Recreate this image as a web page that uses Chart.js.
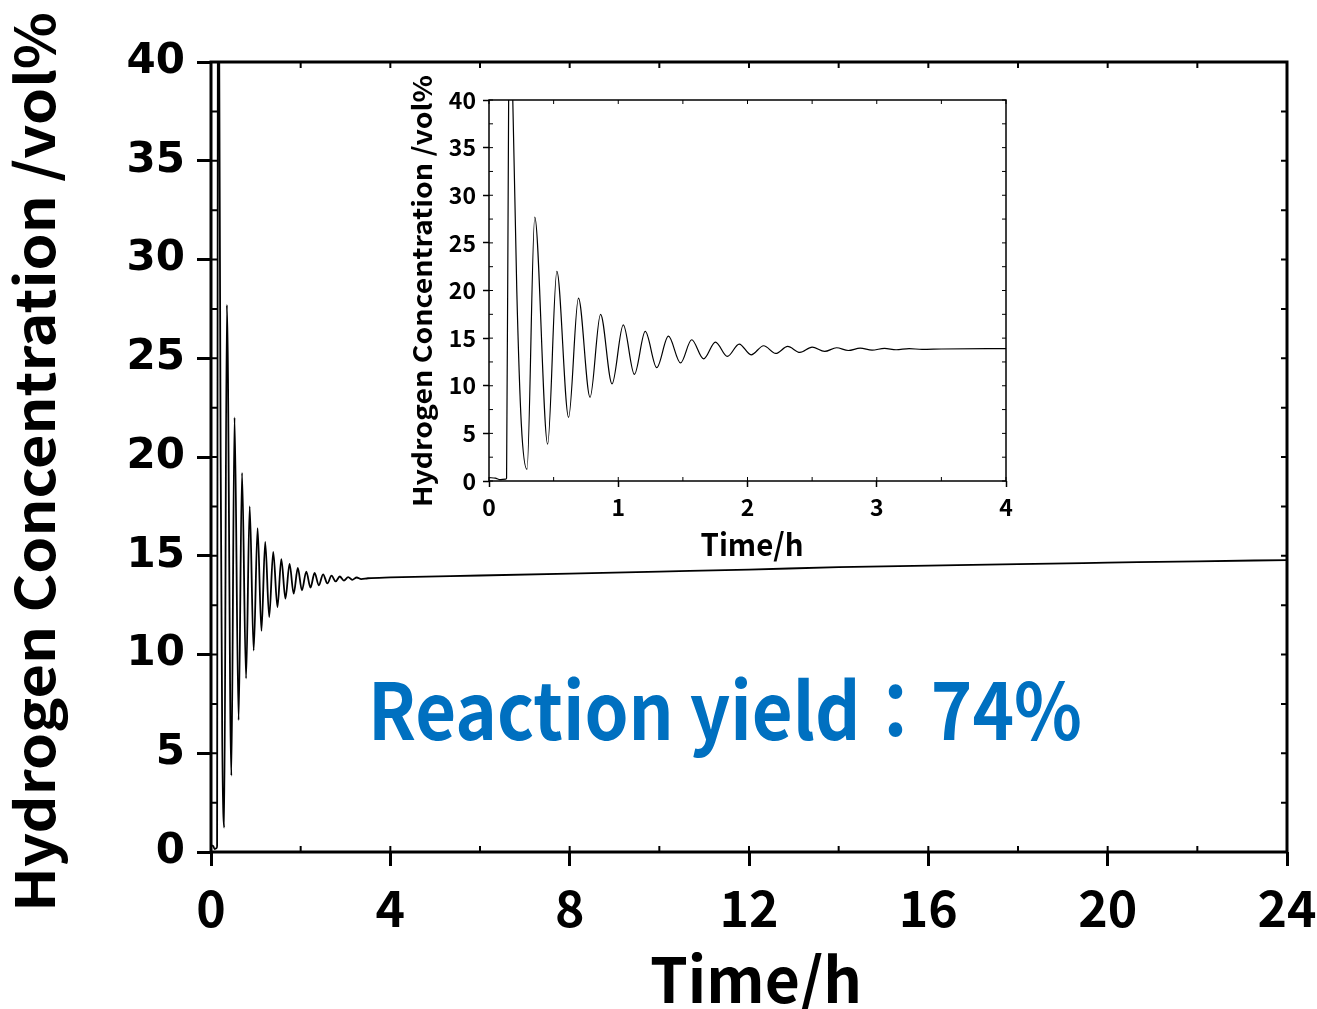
<!DOCTYPE html>
<html>
<head>
<meta charset="utf-8">
<script src="https://cdn.jsdelivr.net/npm/chart.js@4.4.0/dist/chart.umd.min.js"></script>
<style>
  html, body { margin: 0; padding: 0; background: #fff; }
  #wrap { position: relative; width: 1317px; height: 1009px; overflow: hidden; }
  #mainChart { position: absolute; left: 0; top: 0; }
  #insetChart { position: absolute; left: 380px; top: 60px; }
</style>
</head>
<body>
<div id="wrap">
  <canvas id="mainChart" width="1317" height="1009"></canvas>
  <canvas id="insetChart" width="650" height="520"></canvas>
</div>
<script>
// Hydrogen concentration (time in hours, vol%)
const timeH = [0, 0.05, 0.08, 0.13, 0.136, 0.152, 0.168, 0.184, 0.215, 0.25, 0.294,
  0.354, 0.454, 0.525, 0.616, 0.692, 0.782, 0.863, 0.952, 1.039, 1.125, 1.209, 1.298,
  1.388, 1.482, 1.568, 1.660, 1.752, 1.844, 1.936, 2.028, 2.125, 2.219, 2.311, 2.405,
  2.50, 2.597, 2.689, 2.78, 2.872, 2.964, 3.06, 3.15, 3.25, 3.35, 3.5, 4,
  6, 8, 10, 12, 14, 16, 18, 20, 22, 24];
const hydrogenVol = [0.35, 0.3, 0.15, 0.2, 0.3, 40, 46, 40, 20, 6, 1.23,
  27.7, 3.87, 22.0, 6.68, 19.2, 8.79, 17.5, 10.2, 16.4, 11.2, 15.7, 11.9,
  15.2, 12.4, 14.83, 12.83, 14.59, 13.08, 14.38, 13.25, 14.2, 13.39, 14.13, 13.5,
  14.06, 13.6, 13.99, 13.7, 13.95, 13.74, 13.92, 13.78, 13.9, 13.82, 13.86, 13.9,
  14.0, 14.1, 14.2, 14.3, 14.42, 14.5, 14.58, 14.65, 14.72, 14.78];

const mainXTicks = [0, 4, 8, 12, 16, 20, 24];
const insetXTicks = [0, 1, 2, 3, 4];
const yTicks = [0, 5, 10, 15, 20, 25, 30, 35, 40];

const yTitle = 'Hydrogen Concentration /vol%';
const xTitle = 'Time/h';
const yieldText = 'Reaction yield\uFF1A74%';

const points = timeH.map((t, i) => ({ x: t, y: hydrogenVol[i] }));
const jp = '"Noto Sans CJK JP", "Noto Sans", sans-serif';

// draw text squeezed/stretched to a given width
function fitText(ctx, text, x, y, font, width, rotate) {
  ctx.save();
  ctx.font = font;
  const w = ctx.measureText(text).width;
  ctx.translate(x, y);
  if (rotate) ctx.rotate(-Math.PI / 2);
  ctx.scale(width / w, 1);
  ctx.textAlign = 'center';
  ctx.textBaseline = 'alphabetic';
  ctx.fillText(text, 0, 0);
  ctx.restore();
}

function framePlugin(o) {
  return {
    id: 'frame',
    afterDraw(chart) {
      const { ctx, chartArea: a, scales: { x, y } } = chart;
      ctx.save();
      ctx.strokeStyle = '#000';
      ctx.fillStyle = '#000';
      ctx.lineWidth = o.boxW;
      ctx.strokeRect(a.left, a.top, a.right - a.left, a.bottom - a.top);

      // minor and mirrored ticks
      ctx.lineWidth = o.minorW;
      ctx.beginPath();
      for (let v = x.min; v <= x.max + 1e-9; v += o.xMinor) {
        const px = x.getPixelForValue(v);
        ctx.moveTo(px, a.bottom); ctx.lineTo(px, a.bottom - o.minorLen);
        ctx.moveTo(px, a.top); ctx.lineTo(px, a.top + o.minorLen);
      }
      for (let v = y.min; v <= y.max + 1e-9; v += o.yMinor) {
        const py = y.getPixelForValue(v);
        ctx.moveTo(a.left, py); ctx.lineTo(a.left + o.minorLen, py);
        ctx.moveTo(a.right, py); ctx.lineTo(a.right - o.minorLen, py);
      }
      ctx.stroke();

      fitText(ctx, yTitle, o.yt.x, o.yt.y, o.yt.font, o.yt.w, true);
      fitText(ctx, xTitle, o.xt.x, o.xt.y, o.xt.font, o.xt.w, false);
      if (o.note) {
        ctx.fillStyle = '#0070C0';
        fitText(ctx, yieldText, o.note.x, o.note.y, o.note.font, o.note.w, false);
      }
      ctx.restore();
    }
  };
}

function makeChart(id, o) {
  return new Chart(document.getElementById(id), {
    type: 'line',
    data: {
      datasets: [{
        data: points,
        borderColor: '#000',
        borderWidth: o.lineW,
        pointRadius: 0,
        cubicInterpolationMode: 'monotone',
        fill: false
      }]
    },
    options: {
      responsive: false,
      animation: false,
      events: [],
      parsing: false,
      layout: { padding: o.padding },
      plugins: { legend: { display: false }, tooltip: { enabled: false } },
      scales: {
        x: {
          type: 'linear',
          min: o.xTicks[0],
          max: o.xTicks[o.xTicks.length - 1],
          afterBuildTicks: s => { s.ticks = o.xTicks.map(v => ({ value: v })); },
          afterFit: s => { s.height = o.xH; s.paddingLeft = 0; s.paddingRight = 0; },
          border: { display: false },
          grid: { drawOnChartArea: false, tickLength: o.tickLen, tickWidth: o.tickW, tickColor: '#000' },
          ticks: { color: '#000', font: o.xFont, padding: o.xPad, maxRotation: 0, autoSkip: false }
        },
        y: {
          min: 0,
          max: 40,
          afterBuildTicks: s => { s.ticks = yTicks.map(v => ({ value: v })); },
          afterFit: s => { s.width = o.yW; s.paddingTop = 0; s.paddingBottom = 0; },
          border: { display: false },
          grid: { drawOnChartArea: false, tickLength: o.tickLen, tickWidth: o.tickW, tickColor: '#000' },
          ticks: { color: '#000', font: o.yFont, padding: o.yPad }
        }
      }
    },
    plugins: [framePlugin(o.frame)]
  });
}

window.addEventListener('DOMContentLoaded', () => {
  // main chart: plot area 211..1287 x 62..852
  makeChart('mainChart', {
    lineW: 1.8,
    padding: { left: 0, top: 62, right: 30, bottom: 0 },
    xTicks: mainXTicks,
    xH: 157,
    yW: 211,
    tickLen: 14,
    tickW: 3,
    xFont: { family: jp, size: 50, weight: 'bold' },
    yFont: { family: '"DejaVu Sans", sans-serif', size: 42, weight: 'bold' },
    xPad: 12,
    yPad: 12,
    frame: {
      boxW: 3, minorW: 2, minorLen: 6, xMinor: 2, yMinor: 2.5,
      yt: { x: 55, y: 462, font: 'bold 54px ' + jp, w: 900 },
      xt: { x: 756, y: 1003, font: 'bold 62px ' + jp, w: 212 },
      note: { x: 725, y: 740, font: 'bold 78px ' + jp, w: 714 }
    }
  });

  // inset: plot area 489..1006 x 100..481 on the page
  makeChart('insetChart', {
    lineW: 1.2,
    padding: { left: 0, top: 40, right: 24, bottom: 0 },
    xTicks: insetXTicks,
    xH: 99,
    yW: 109,
    tickLen: 6,
    tickW: 1.5,
    xFont: { family: jp, size: 23, weight: 'bold' },
    yFont: { family: jp, size: 23, weight: 'bold' },
    xPad: 6,
    yPad: 7,
    frame: {
      boxW: 1.5, minorW: 1, minorLen: 4, xMinor: 0.5, yMinor: 2.5,
      yt: { x: 52, y: 231, font: 'bold 26px ' + jp, w: 432 },
      xt: { x: 372, y: 496, font: 'bold 31px ' + jp, w: 103 },
      note: null
    }
  });
});
</script>
</body>
</html>
